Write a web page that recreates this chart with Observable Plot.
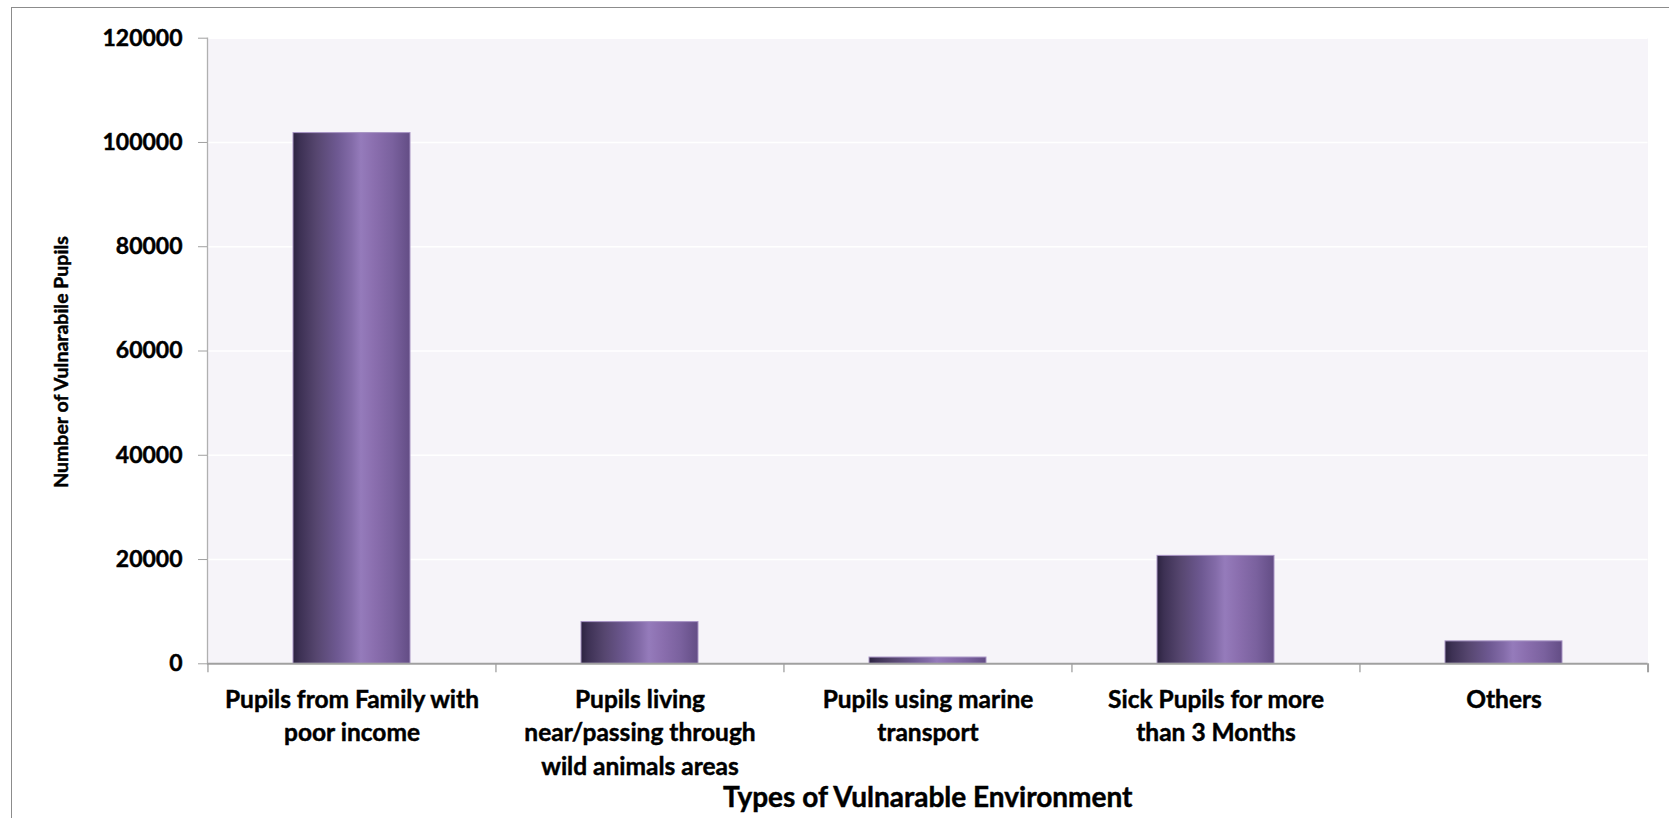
<!DOCTYPE html>
<html>
<head>
<meta charset="utf-8">
<script src="https://cdn.jsdelivr.net/npm/d3@7"></script>
<script src="https://cdn.jsdelivr.net/npm/@observablehq/plot@0.6"></script>
<style>
  html, body { margin: 0; padding: 0; background: #ffffff; overflow: hidden; }
  #wrap { position: relative; width: 1669px; height: 818px; overflow: hidden; }
  #border { position: absolute; left: 11px; top: 7px; width: 1700px; height: 900px;
            border-top: 1.5px solid #8c8c8c; border-left: 1.5px solid #8c8c8c; box-sizing: border-box; }
  #chart { position: absolute; left: 0; top: 0; }
  #chart svg text { stroke: #000; stroke-width: 0.45px; }
</style>
</head>
<body>
<div id="wrap"><div id="border"></div><div id="chart"></div></div>
<script>
// ---- data ----
const categories = [
  "Pupils from Family with poor income",
  "Pupils living near/passing through wild animals areas",
  "Pupils using marine transport",
  "Sick Pupils for more than 3 Months",
  "Others"
];
const tickLabels = [
  "Pupils from Family with\npoor income",
  "Pupils living\nnear/passing through\nwild animals areas",
  "Pupils using marine\ntransport",
  "Sick Pupils for more\nthan 3 Months",
  "Others"
];
const values = [101800, 8000, 1200, 20700, 4300];
const yTicks = [0, 20000, 40000, 60000, 80000, 100000, 120000];
const xTitle = "Types of Vulnarable Environment";
const yTitle = "Number of Vulnarabile Pupils";

const data = categories.map((c, i) => ({category: c, value: values[i]}));

// ---- layout ----
const W = 1669, H = 818;
const mL = 207, mR = 21.5, mT = 37.7, mB = 154.7;
const step = (W - mL - mR) / categories.length;

const plot = Plot.plot({
  width: W,
  height: H,
  marginLeft: mL,
  marginRight: mR,
  marginTop: mT,
  marginBottom: mB,
  style: {fontFamily: "Lato, 'Open Sans', sans-serif", fontWeight: "bold", color: "#000", background: "transparent"},
  x: {domain: categories, paddingInner: 0.594, paddingOuter: 0.297, label: null},
  y: {domain: [0, 120000], label: null},
  marks: [
    Plot.frame({fill: "#f6f4f9", stroke: null}),
    Plot.gridY(yTicks, {stroke: "#ffffff", strokeOpacity: 1, strokeWidth: 1.5}),
    Plot.barY(data, {x: "category", y: "value", fill: "url(#barGrad)", stroke: "#a793c4", strokeWidth: 1}),
    Plot.frame({anchor: "left", stroke: "#b0b0b0", strokeWidth: 1.3}),
    Plot.ruleY([0], {stroke: "#a0a0a0", strokeWidth: 2}),
    // x-axis boundary ticks
    Plot.ruleX(categories, {x: d => d, y1: 0, y2: 0, dx: -step / 2, insetBottom: -9, stroke: "#a0a0a0", strokeWidth: 1.3}),
    Plot.ruleX(categories.slice(-1), {x: d => d, y1: 0, y2: 0, dx: step / 2, insetBottom: -9, stroke: "#a0a0a0", strokeWidth: 2}),
    Plot.axisY(yTicks, {tickSize: 9, tickPadding: 16, tickFormat: d3.format("d"), fontSize: 23, stroke: "#a0a0a0", label: null}),
    Plot.axisX({tickSize: 0, tickPadding: 20, tickFormat: d => tickLabels[categories.indexOf(d)], fontSize: 24.5, lineHeight: 1.37, label: null}),
    Plot.text([yTitle], {frameAnchor: "left", rotate: -90, dx: -146, dy: 11, textAnchor: "middle", lineAnchor: "middle", fontSize: 19.5, fontWeight: "bold", fill: "#000"}),
    Plot.text([xTitle], {frameAnchor: "bottom", dy: 134, textAnchor: "middle", lineAnchor: "middle", fontSize: 28, fontWeight: "bold", fill: "#000"})
  ]
});

// gradient for the cylinder-like bars
const svg = d3.select(plot.tagName.toLowerCase() === "svg" ? plot : plot.querySelector("svg"));
const grad = svg.insert("defs", ":first-child").append("linearGradient")
  .attr("id", "barGrad").attr("x1", "0").attr("x2", "1").attr("y1", "0").attr("y2", "0");
[
  [0, "#2c2340"], [0.06, "#3d3154"], [0.2, "#56466f"], [0.38, "#6e5992"],
  [0.5, "#836ba8"], [0.58, "#957bbb"], [0.7, "#8a6eae"], [0.85, "#7a619e"], [1, "#634d85"]
].forEach(([o, c]) => grad.append("stop").attr("offset", o).attr("stop-color", c));

document.getElementById("chart").appendChild(plot);
</script>
</body>
</html>
